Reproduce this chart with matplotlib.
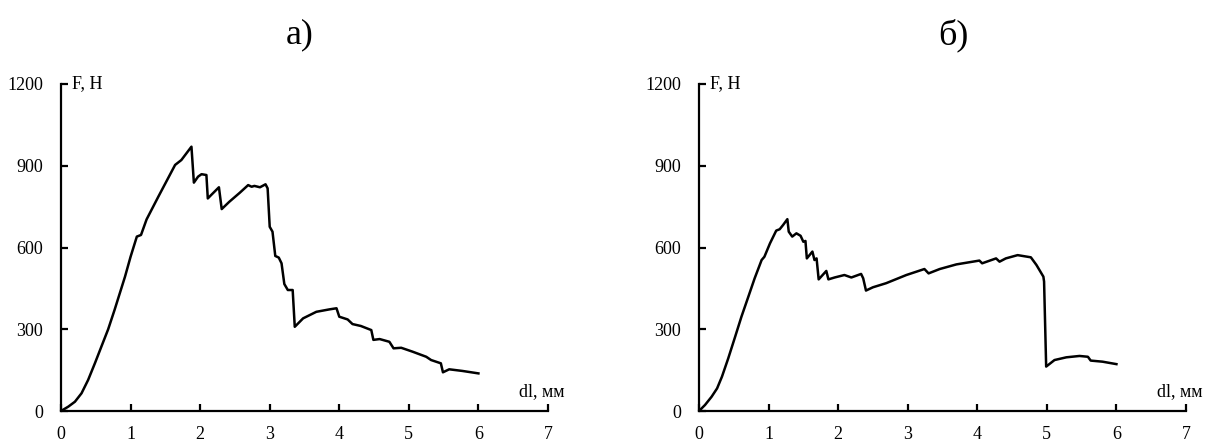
import matplotlib
matplotlib.use("Agg")
import matplotlib.pyplot as plt

plt.rcParams['font.family'] = ['Liberation Serif', 'DejaVu Serif']

# specimen (а): elongation dl, mm and force F, N
dl_a = [0.0, 0.105, 0.2, 0.295, 0.39, 0.487, 0.58, 0.678, 0.77, 0.845, 0.92, 1.0,
        1.09, 1.15, 1.23, 1.40, 1.64, 1.73, 1.875,
        1.91, 1.97, 2.02, 2.09, 2.11, 2.16, 2.27, 2.31, 2.42, 2.57, 2.69, 2.74, 2.78,
        2.86, 2.94, 2.97, 3.0, 3.04, 3.08, 3.13, 3.17, 3.21, 3.26, 3.33, 3.36, 3.48,
        3.67, 3.86, 3.96, 4.0, 4.12, 4.19, 4.31, 4.46, 4.49, 4.58, 4.72, 4.78, 4.89,
        5.05, 5.25, 5.32, 5.46, 5.49, 5.58, 5.77, 6.0]
F_a = [0, 16, 34, 65, 114, 175, 236, 300, 371, 432, 493, 566,
       640, 646, 703, 787, 903, 921, 970,
       838, 860, 869, 866, 780, 793, 821, 741, 768, 801, 829, 823, 826,
       821, 832, 817, 676, 658, 569, 563, 542, 466, 444, 444, 309, 340,
       364, 373, 377, 346, 336, 319, 312, 297, 261, 264, 254, 230, 232,
       218, 199, 187, 175, 142, 153, 147, 138]

# specimen (б)
dl_b = [0.0, 0.086, 0.18, 0.26, 0.33, 0.42, 0.52, 0.61, 0.71, 0.80, 0.90, 0.94,
        1.02, 1.11, 1.16, 1.21, 1.27,
        1.29, 1.34, 1.40, 1.46, 1.50, 1.53, 1.55, 1.63, 1.66, 1.69, 1.72, 1.83,
        1.86, 1.95, 2.09, 2.19, 2.33, 2.36, 2.40, 2.50, 2.69, 2.98, 3.24, 3.30,
        3.46, 3.70, 4.03, 4.07, 4.27, 4.32, 4.41, 4.58, 4.77, 4.85, 4.95, 4.96,
        4.99, 5.11, 5.28, 5.47, 5.59, 5.63, 5.80, 6.0]
F_b = [0, 22, 52, 83, 126, 193, 273, 346, 420, 487, 554, 566,
       615, 662, 667, 683, 704,
       658, 640, 652, 643, 621, 624, 560, 585, 554, 560, 483, 514,
       483, 490, 499, 490, 503, 487, 442, 454, 469, 499, 521, 505,
       521, 538, 552, 542, 560, 548, 560, 572, 564, 536, 493, 475,
       163, 187, 197, 202, 199, 185, 181, 172]

panels = [("а)", dl_a, F_a), ("б)", dl_b, F_b)]
x_ticks = [0, 1, 2, 3, 4, 5, 6, 7]
y_ticks = [0, 300, 600, 900, 1200]

fig = plt.figure(figsize=(12.18, 4.41), dpi=100)
lefts = [61 / 1218, 699 / 1218]
title_x = [300 / 1218, 953 / 1218]

for left, tx, (title, x, y) in zip(lefts, title_x, panels):
    ax = fig.add_axes([left, 30 / 441, 487 / 1218, 327 / 441])
    ax.plot(x, y, color='black', lw=1.8, solid_joinstyle='round')
    ax.set_xlim(0, 7)
    ax.set_ylim(0, 1200)
    ax.set_xticks(x_ticks)
    ax.set_yticks(y_ticks)
    for s in ['top', 'right']:
        ax.spines[s].set_visible(False)
    for s in ['left', 'bottom']:
        ax.spines[s].set_linewidth(1.6)
    ax.tick_params(direction='in', length=5, width=1.6, labelsize=13, pad=11)
    ax.tick_params(axis='y', pad=13)
    ax.text(0.16, 1200, "F, Н", fontsize=13, ha='left', va='center')
    ax.text(6.58, 70, "dl, мм", fontsize=13, ha='left', va='center', clip_on=False)
    fig.text(tx, 1 - 35 / 441, title, fontsize=26, ha='center', va='center')

fig.savefig("out.png", dpi=100)
